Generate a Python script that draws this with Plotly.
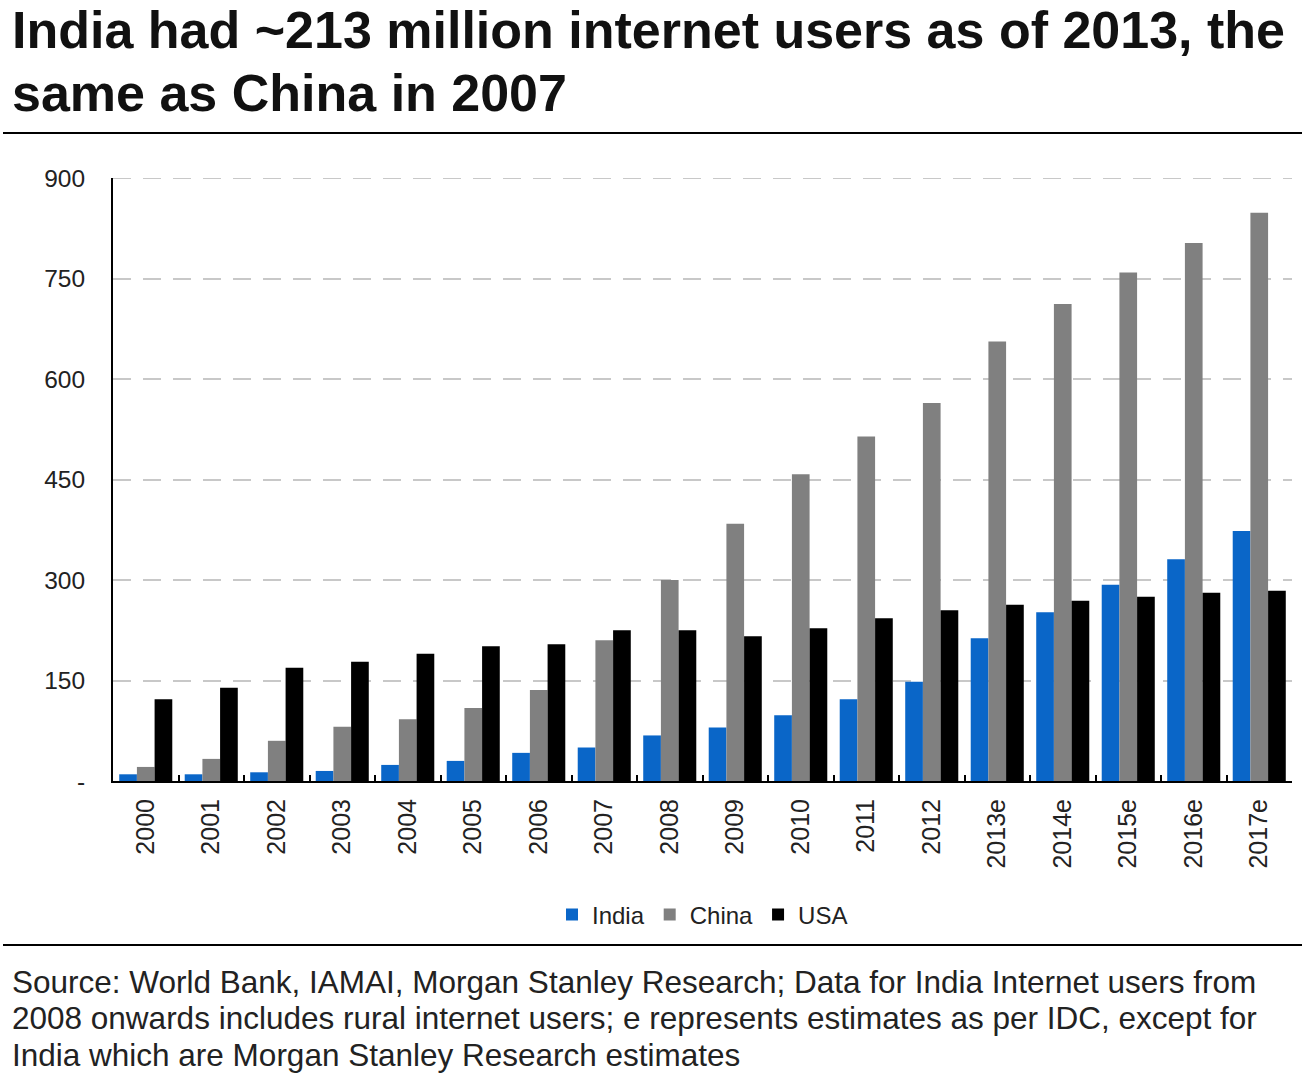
import plotly.graph_objects as go

years = ["2000", "2001", "2002", "2003", "2004", "2005", "2006", "2007", "2008",
         "2009", "2010", "2011", "2012", "2013e", "2014e", "2015e", "2016e", "2017e"]
india = [10, 10, 13, 15, 24, 30, 42, 50, 68, 80, 98, 122, 148, 213, 252, 293, 331, 373]
china = [21, 33, 60, 81, 92, 109, 136, 210, 300, 384, 458, 514, 564, 656, 712, 759, 803, 848]
usa = [122, 139, 169, 178, 190, 201, 204, 225, 225, 216, 228, 243, 255, 263, 269, 275, 281, 284]

y_ticks = [0, 150, 300, 450, 600, 750, 900]
y_labels = ["-", "150", "300", "450", "600", "750", "900"]

title_lines = ["India had ~213 million internet users as of 2013, the", "same as China in 2007"]
source_lines = [
    "Source: World Bank, IAMAI, Morgan Stanley Research; Data for India Internet users from",
    "2008 onwards includes rural internet users; e represents estimates as per IDC, except for",
    "India which are Morgan Stanley Research estimates",
]

FONT = "Liberation Sans, Arial, sans-serif"
PLOT_W = 1179
PLOT_H = 603
BASE = 781

fig = go.Figure()
fig.add_trace(go.Bar(x=years, y=india, name="India", marker=dict(color="#0A66C8", line=dict(width=0))))
fig.add_trace(go.Bar(x=years, y=china, name="China", marker=dict(color="#808080", line=dict(width=0))))
fig.add_trace(go.Bar(x=years, y=usa, name="USA", marker=dict(color="#000000", line=dict(width=0))))

fig.update_layout(
    width=1304, height=1080,
    margin=dict(l=113, r=12, t=178, b=299),
    paper_bgcolor="white", plot_bgcolor="white",
    barmode="group", bargap=0.19, bargroupgap=0,
    font=dict(family=FONT, color="#222222"),
    showlegend=True,
    legend=dict(orientation="h", x=0.5, xanchor="center", y=-(915 - BASE) / PLOT_H, yanchor="middle",
                font=dict(size=24, color="#222222"), itemwidth=30, tracegroupgap=0,
                itemclick=False),
)

fig.update_xaxes(
    type="category", tickangle=-90, showline=True, linecolor="#000000", linewidth=2,
    ticks="inside", tickson="boundaries", ticklen=6, tickcolor="#000000", tickwidth=2,
    tickfont=dict(size=25, color="#222222"), showgrid=False, ticklabelstandoff=6,
)
fig.update_yaxes(
    range=[0, 900], tickvals=y_ticks, ticktext=y_labels,
    showline=True, linecolor="#000000", linewidth=2,
    showgrid=True, gridcolor="#C8C8C8", griddash="18px,12px", gridwidth=2,
    tickfont=dict(size=24.5, color="#222222"), ticks="", ticklabelstandoff=21,
    zeroline=False,
)

# top gridline at 900 (plotly drops the gridline on the range edge)
fig.add_shape(type="line", xref="paper", yref="y", x0=0, x1=1, y0=y_ticks[-1], y1=y_ticks[-1],
              layer="below", line=dict(color="#C8C8C8", width=2, dash="18px,12px"))

for line, yc in zip(title_lines, [30, 93]):
    fig.add_annotation(text=line, xref="paper", yref="paper", x=-113 / PLOT_W, y=1 + (178 - yc) / PLOT_H,
                       xanchor="left", yanchor="middle", align="left", showarrow=False,
                       xshift=10,
                       font=dict(family=FONT, size=52, color="#111111", weight="bold"))

for line, yc in zip(source_lines, [982, 1018, 1055]):
    fig.add_annotation(text=line, xref="paper", yref="paper", x=-113 / PLOT_W, y=-(yc - BASE) / PLOT_H,
                       xanchor="left", yanchor="middle", align="left", showarrow=False,
                       xshift=10,
                       font=dict(family=FONT, size=31.5, color="#222222"))

fig.add_shape(type="line", xref="paper", yref="paper",
              x0=-110 / PLOT_W, x1=1 + 10 / PLOT_W, y0=1 + (178 - 133) / PLOT_H, y1=1 + (178 - 133) / PLOT_H,
              line=dict(color="#000000", width=2))
fig.add_shape(type="line", xref="paper", yref="paper",
              x0=-110 / PLOT_W, x1=1 + 10 / PLOT_W, y0=-(945 - BASE) / PLOT_H, y1=-(945 - BASE) / PLOT_H,
              line=dict(color="#000000", width=2))

fig.write_html("out.html")
